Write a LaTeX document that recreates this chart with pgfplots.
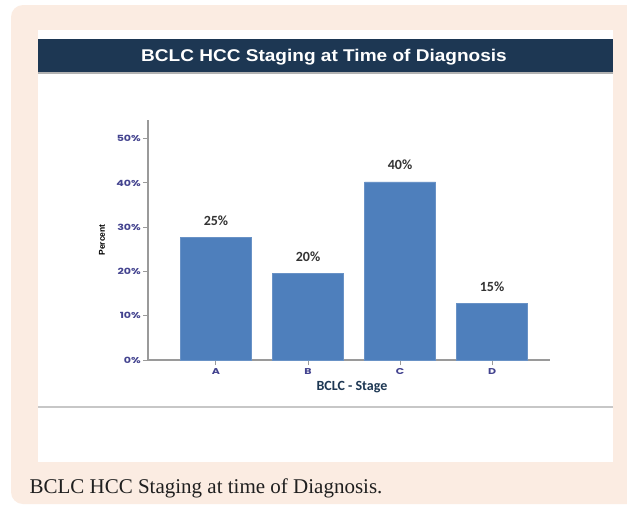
\documentclass[border=0pt]{standalone}
\usepackage{fontspec}
\usepackage{pgfplots}
\pgfplotsset{compat=1.18}
\newfontfamily\titlef{Liberation Sans}
\newfontfamily\carl{Carlito}
\newfontfamily\goth{Poppins}
\newfontfamily\capf{Liberation Serif}
\definecolor{beige}{HTML}{FBECE2}
\definecolor{navy}{HTML}{1D3753}
\definecolor{barblue}{HTML}{4E7FBC}
\definecolor{tickc}{HTML}{43438F}
\definecolor{axisgray}{HTML}{9A9A9A}
\definecolor{lblc}{HTML}{333333}
\begin{document}
\begin{tikzpicture}[x=1pt,y=1pt]
\useasboundingbox (0,0) rectangle (627,-507);
\fill[white] (0,0) rectangle (627,-507);
\begin{scope}
\clip (0,0) rectangle (627,-507);
\fill[beige, rounded corners=12pt] (11,-5) rectangle (645,-504);
\end{scope}
\fill[white] (38,-30) rectangle (613,-462);
\fill[black!30] (38,-41) rectangle (613,-74);
\fill[navy] (38,-39) rectangle (613,-72);
\node[text=white, xscale=1.12, font=\titlef\bfseries\fontsize{17}{20}\selectfont] at (324,-57) {BCLC HCC Staging at Time of Diagnosis};
\draw[black!22, line width=2pt] (38,-407) -- (613,-407);
\begin{axis}[
  at={(148pt,-360pt)}, anchor=south west,
  scale only axis, width=402pt, height=240pt,
  xmin=-0.739, xmax=3.630, ymin=0, ymax=54.2,
  axis x line*=bottom, axis y line*=left,
  axis line style={axisgray, line width=1.5pt},
  xtick={0,1,2,3}, xticklabels={A,B,C,D},
  ytick={0,10,20,30,40,50}, yticklabels={0\%,10\%,20\%,30\%,40\%,50\%},
  tick style={axisgray, line width=1pt},
  tick align=outside, major tick length=5pt,
  ticklabel style={font=\goth\bfseries\fontsize{8.5}{9}\selectfont, text=tickc, xscale=1.3},
  y tick label style={inner xsep=1.5pt},
  ybar, bar width=71pt,
  ylabel={Percent},
  ylabel style={at={(axis description cs:0,0.5)}, anchor=center, yshift=46pt, font=\titlef\bfseries\fontsize{8.5}{9}\selectfont},
  xlabel={BCLC - Stage},
  xlabel style={at={(axis description cs:0.5,0)}, anchor=center, yshift=-27pt, xshift=3pt, font=\carl\bfseries\fontsize{14}{16}\selectfont, text=navy},
  point meta=explicit symbolic,
  nodes near coords,
  every node near coord/.append style={anchor=center, yshift=17pt, font=\carl\bfseries\fontsize{14}{16}\selectfont, text=lblc},
]
\addplot[fill=barblue, draw=barblue!85!white, line width=0.6pt] coordinates {(0,27.6) [25\%] (1,19.5) [20\%] (2,40.2) [40\%] (3,12.7) [15\%]};
\end{axis}
\node[anchor=west, text=black!88, font=\capf\fontsize{21}{24}\selectfont] at (26,-488) {BCLC HCC Staging at time of Diagnosis.};
\end{tikzpicture}
\end{document}
